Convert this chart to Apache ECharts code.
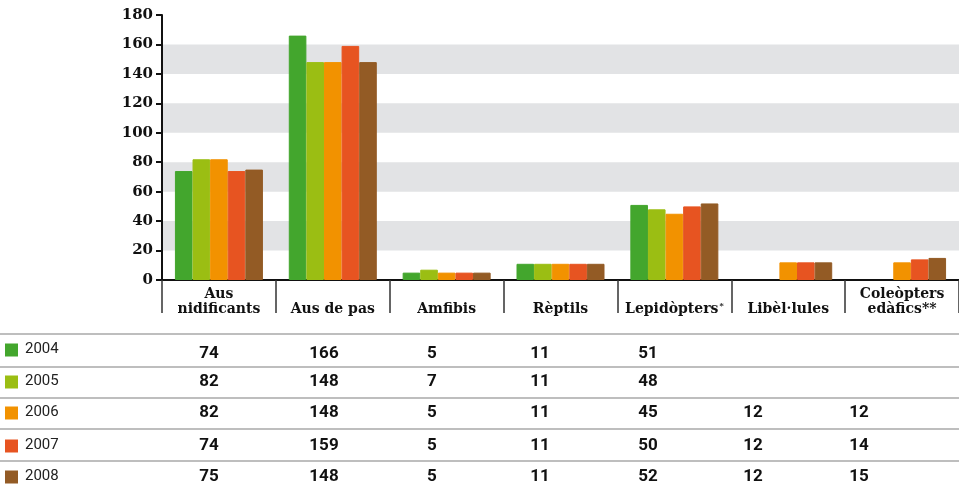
<!DOCTYPE html>
<html>
<head>
<meta charset="utf-8">
<script src="https://cdn.jsdelivr.net/npm/echarts@6/dist/echarts.min.js"></script>
<style>
  html, body { margin: 0; padding: 0; background: #fff; }
  #chart { width: 959px; height: 492px; }
</style>
</head>
<body>
<div id="chart"></div>
<script>
// Species groups surveyed
var categories = ['Aus\nnidificants', 'Aus de pas', 'Amfibis', 'Rèptils', 'Lepidòpters*', 'Libèl·lules', 'Coleòpters\nedàfics**'];
var years = ['2004', '2005', '2006', '2007', '2008'];

// Number of species per group and year
var v2004 = [74, 166, 5, 11, 51, null, null];
var v2005 = [82, 148, 7, 11, 48, null, null];
var v2006 = [82, 148, 5, 11, 45, 12, 12];
var v2007 = [74, 159, 5, 11, 50, 12, 14];
var v2008 = [75, 148, 5, 11, 52, 12, 15];

var yTicks = [0, 20, 40, 60, 80, 100, 120, 140, 160, 180];

var yearColors = ['#43a62d', '#9bbe13', '#f29200', '#e75421', '#935b25'];
var seriesValues = [v2004, v2005, v2006, v2007, v2008];

var chart = echarts.init(document.getElementById('chart'));

// Summary table beneath the chart
var rowY = [354, 382, 413, 446, 477];
var keyY = [350, 382, 413, 446, 477];
var ruleY = [334, 367, 398, 429, 461];
var colX = [209, 324, 432, 540, 648, 753, 859];
var graphics = [];
ruleY.forEach(function (y) {
  graphics.push({
    type: 'line', silent: true,
    shape: { x1: 0, y1: y, x2: 959, y2: y },
    style: { stroke: '#a8a8a8', lineWidth: 1.5 }
  });
});
years.forEach(function (yr, r) {
  graphics.push({
    type: 'rect', silent: true,
    shape: { x: 5, y: keyY[r] - 6.5, width: 13, height: 13 },
    style: { fill: yearColors[r] }
  });
  graphics.push({
    type: 'text', silent: true, x: 25, y: keyY[r] - 1,
    style: { text: yr, font: '15px Roboto', fill: '#222', align: 'left', verticalAlign: 'middle' }
  });
  seriesValues[r].forEach(function (val, c) {
    if (val == null) return;
    graphics.push({
      type: 'text', silent: true, x: colX[c], y: rowY[r],
      style: { text: String(val), font: 'bold 17px Roboto', fill: '#111', align: 'center', verticalAlign: 'middle' }
    });
  });
});

var option = {
  animation: false,
  grid: { left: 162, right: 0, top: 15, bottom: 212, containLabel: false },
  xAxis: {
    type: 'category',
    data: categories,
    axisLine: { lineStyle: { color: '#111', width: 2 } },
    axisTick: { show: true, length: 33, lineStyle: { color: '#333', width: 1.5 } },
    axisLabel: {
      interval: 0,
      margin: 37,
      verticalAlign: 'bottom',
      fontFamily: 'DejaVu Serif',
      fontWeight: 'bold',
      fontSize: 14,
      lineHeight: 15,
      color: '#111',
      formatter: function (name) {
        // a lone trailing asterisk is set as a superscript mark
        if (/[^*]\*$/.test(name)) {
          return name.slice(0, -1) + '{sup|*}';
        }
        return name;
      },
      rich: {
        sup: { fontSize: 8, fontFamily: 'DejaVu Serif', fontWeight: 'bold', color: '#111', verticalAlign: 'top', padding: [0, 0, 8, 1] }
      }
    },
    splitLine: { show: false }
  },
  yAxis: {
    type: 'value',
    min: yTicks[0],
    max: yTicks[yTicks.length - 1],
    interval: yTicks[1] - yTicks[0],
    axisLine: { show: true, lineStyle: { color: '#111', width: 2 } },
    axisTick: { show: true, length: 6, lineStyle: { color: '#111', width: 2 } },
    axisLabel: {
      margin: 9,
      fontFamily: 'DejaVu Serif',
      fontWeight: 'bold',
      fontSize: 15,
      color: '#111'
    },
    splitLine: { show: false },
    splitArea: { show: true, areaStyle: { color: ['rgba(0,0,0,0)', '#e2e3e5'] } }
  },
  series: years.map(function (yr, i) {
    return {
      name: yr,
      type: 'bar',
      data: seriesValues[i],
      barWidth: 17.6,
      barGap: '0%',
      // a thin border in the fill colour closes anti-aliasing seams between adjacent bars
      itemStyle: { color: yearColors[i], borderColor: yearColors[i], borderWidth: 1 }
    };
  }),
  graphic: graphics
};

chart.setOption(option);
</script>
</body>
</html>
